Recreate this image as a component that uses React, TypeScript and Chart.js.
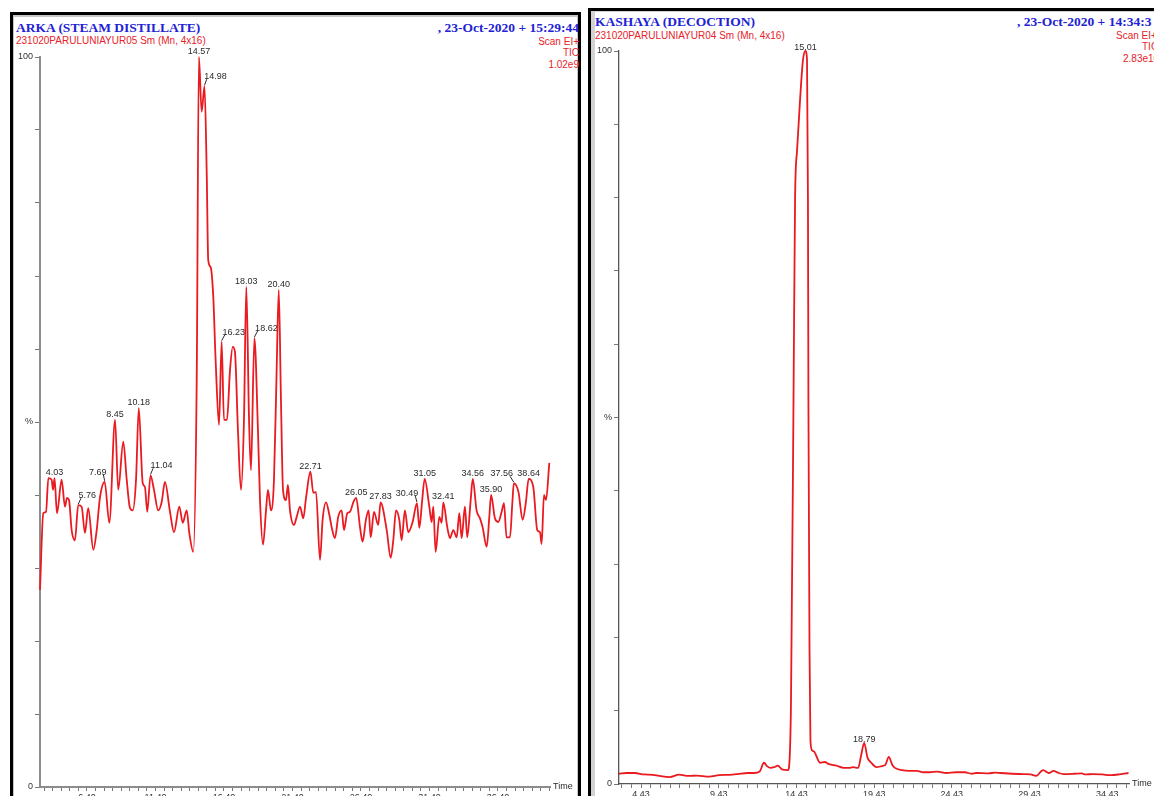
import React, { useEffect, useRef } from "react";
import { Chart, registerables } from "chart.js";

Chart.register(...registerables);

// ---------- ARKA (steam distillate) ----------
const arkaTimes = [
  2.97, 3.21, 3.41, 3.58, 3.82, 3.92, 4.03, 4.21, 4.55, 4.79,
  4.94, 5.09, 5.28, 5.52, 5.76, 6.01, 6.25, 6.49, 6.86, 7.11,
  7.35, 7.69, 8.03, 8.45, 8.68, 9.05, 9.3, 9.54, 9.74, 9.98,
  10.18, 10.47, 10.63, 10.8, 11.04, 11.29, 11.6, 11.85, 12.09, 12.46,
  12.75, 13.14, 13.39, 13.68, 13.87, 14.16, 14.41, 14.57, 14.77, 14.98,
  15.14, 15.25, 15.43, 15.62, 15.79, 16.04, 16.23, 16.4, 16.62, 16.84,
  17.04, 17.2, 17.42, 17.64, 17.86, 18.03, 18.23, 18.37, 18.62, 18.88,
  19.03, 19.25, 19.47, 19.61, 19.83, 20.05, 20.23, 20.4, 20.56, 20.71,
  20.93, 21.07, 21.22, 21.51, 21.71, 21.95, 22.19, 22.39, 22.71, 22.92,
  23.12, 23.41, 23.6, 23.85, 24.09, 24.26, 24.5, 24.74, 24.99, 25.16,
  25.4, 25.6, 25.84, 26.05, 26.33, 26.52, 26.76, 26.96, 27.11, 27.35,
  27.66, 27.83, 28.28, 28.57, 28.76, 28.96, 29.2, 29.37, 29.61, 29.85,
  30.17, 30.49, 30.66, 30.87, 31.05, 31.39, 31.56, 31.68, 31.85, 32.12,
  32.29, 32.41, 32.7, 32.9, 33.14, 33.39, 33.58, 33.75, 33.99, 34.16,
  34.41, 34.56, 34.84, 35.09, 35.28, 35.58, 35.77, 35.9, 36.18, 36.42,
  36.67, 36.84, 37.03, 37.28, 37.45, 37.56, 37.9, 38.2, 38.44, 38.64,
  38.98, 39.27, 39.47, 39.59, 39.76, 39.91, 40.15,
];
const arkaValues = [
  27.0, 37.5, 37.7, 42.3, 42.1, 40.7, 42.3, 37.5, 42.1, 38.4,
  39.6, 39.3, 35.2, 33.8, 38.6, 38.4, 34.8, 38.2, 32.5, 35.2,
  39.7, 41.8, 36.2, 50.3, 40.7, 47.3, 42.1, 38.2, 37.9, 42.1,
  51.9, 41.6, 41.1, 37.7, 42.7, 40.7, 37.9, 39.0, 41.8, 37.7,
  34.9, 38.4, 36.2, 37.9, 34.8, 32.2, 55.8, 100, 92.5, 96.0,
  84.1, 72.2, 71.2, 67.1, 58.5, 49.6, 61.0, 50.3, 50.3, 57.1,
  60.3, 59.6, 48.9, 40.7, 50.3, 68.5, 50.3, 43.4, 61.5, 48.9,
  39.3, 33.2, 37.9, 40.7, 37.9, 42.1, 55.8, 68.1, 53.0, 40.7,
  39.3, 41.4, 37.9, 35.9, 37.0, 38.4, 36.8, 39.6, 43.2, 40.3,
  40.4, 31.1, 36.6, 39.0, 37.3, 35.6, 34.1, 37.0, 37.9, 35.2,
  37.5, 37.7, 39.0, 39.6, 35.6, 33.6, 36.6, 37.9, 34.2, 37.7,
  35.9, 39.0, 35.2, 31.4, 33.8, 37.9, 36.6, 33.8, 37.9, 34.9,
  36.3, 38.9, 35.5, 39.3, 42.2, 38.4, 36.3, 38.4, 32.2, 37.0,
  36.2, 39.0, 35.6, 34.1, 35.2, 34.2, 37.5, 34.1, 38.4, 34.2,
  39.3, 42.2, 37.9, 36.8, 35.6, 32.9, 37.0, 40.0, 36.8, 36.3,
  37.7, 38.9, 34.2, 34.2, 38.9, 41.6, 40.4, 36.6, 39.0, 42.2,
  41.1, 35.2, 34.9, 33.3, 40.0, 39.3, 44.4,
];
const arkaPeakLabels = [
  "4.03", "5.76", "7.69", "8.45", "10.18", "11.04", "14.57", "14.98", "16.23", "18.03", "18.62",
  "20.40", "22.71", "26.05", "27.83", "30.49", "31.05", "32.41", "34.56", "35.90", "37.56", "38.64",
];
const arkaPeakHeights = [
  42.3, 38.6, 41.8, 50.3, 51.9, 42.7, 100, 96.0, 61.0, 68.5, 61.5,
  68.1, 43.2, 39.6, 39.0, 38.9, 42.2, 39.0, 42.2, 40.0, 41.6, 42.2,
];
const arkaTickLabels = ["6.40", "11.40", "16.40", "21.40", "26.40", "31.40", "36.40"];

// ---------- KASHAYA (decoction) ----------
const kashayaTimes = [
  3.01, 3.5, 4.04, 4.6, 5.2, 5.6, 6.28, 6.87, 7.5, 8.03,
  8.8, 9.45, 10.1, 10.64, 11.3, 11.7, 12.06, 12.34, 12.55, 12.76,
  13.0, 13.23, 13.5, 13.89, 14.02, 14.08, 14.24, 14.34, 14.47, 14.66,
  14.85, 15.01, 15.11, 15.17, 15.2, 15.27, 15.33, 15.43, 15.58, 15.95,
  16.25, 16.53, 17.0, 17.47, 17.8, 18.07, 18.4, 18.6, 18.79, 19.0,
  19.2, 19.59, 19.94, 20.15, 20.37, 20.6, 20.77, 21.22, 21.7, 22.19,
  22.6, 23.0, 23.5, 24.07, 24.7, 25.27, 25.7, 26.0, 26.8, 27.2,
  27.57, 28.3, 29.0, 29.5, 29.85, 30.3, 30.67, 30.97, 31.3, 31.62,
  32.3, 32.8, 33.0, 33.51, 34.1, 34.67, 35.3, 35.8,
];
const kashayaValues = [
  1.4, 1.5, 1.5, 1.3, 1.25, 1.1, 0.95, 1.27, 1.1, 1.15,
  1.0, 1.2, 1.25, 1.35, 1.5, 1.5, 1.7, 2.9, 2.4, 2.2,
  2.3, 2.5, 2.0, 1.9, 5.0, 11.5, 52.4, 79.7, 86.5, 93.3,
  98.8, 100, 98.8, 79.7, 52.0, 18.3, 6.0, 4.6, 4.4, 2.9,
  3.0, 2.7, 2.5, 2.2, 2.2, 2.3, 2.2, 4.0, 5.6, 3.6,
  3.0, 2.3, 2.45, 2.6, 3.7, 2.6, 2.2, 1.9, 1.8, 1.8,
  1.6, 1.6, 1.7, 1.5, 1.6, 1.6, 1.4, 1.5, 1.45, 1.55,
  1.5, 1.4, 1.35, 1.3, 1.1, 1.9, 1.5, 1.8, 1.5, 1.36,
  1.4, 1.45, 1.3, 1.36, 1.3, 1.2, 1.35, 1.5,
];
const kashayaPeakLabels = ["15.01", "18.79"];
const kashayaPeakHeights = [100, 5.6];
const kashayaTickLabels = ["4.43", "9.43", "14.43", "19.43", "24.43", "29.43", "34.43"];

// ---------- styling ----------
const SANS = '"Liberation Sans", Arial, sans-serif';
const SERIF = '"Liberation Serif", "Times New Roman", serif';
const RED = "#e8222a";
const BLUE = "#2222d4";
const LINE = "rgb(233,26,32)";

type ChromProps = {
  times: number[];
  values: number[];
  peakLabels: string[];
  peakHeights: number[];
  peakOffsets: number[];
  labelGap: number;
  tickLabels: string[];
  xMin: number;
  xMax: number;
  left: number;
  top: number;
  width: number;
  height: number;
  padTop: number;
  padRight: number;
  axisColor: string;
  axisWidth: number;
};

function Chromatogram(p: ChromProps) {
  const ref = useRef<HTMLCanvasElement | null>(null);

  useEffect(() => {
    if (!ref.current) return;
    const majorVals = p.tickLabels.map(Number);
    const step = 0.625;
    const tickVals: number[] = [];
    for (let k = -40; k < 120; k++) {
      const v = majorVals[0] + k * step;
      if (v >= p.xMin - 1e-9 && v <= p.xMax + 1e-9) tickVals.push(Number(v.toFixed(4)));
    }

    const labelPlugin = {
      id: "peakLabels",
      afterDatasetsDraw(chart: any) {
        const ctx = chart.ctx;
        const xs = chart.scales.x;
        const ys = chart.scales.y;
        ctx.save();
        ctx.font = `9px ${SANS}`;
        ctx.fillStyle = "#2a2a2a";
        ctx.strokeStyle = "#2a2a2a";
        ctx.lineWidth = 1;
        ctx.textAlign = "center";
        ctx.textBaseline = "alphabetic";
        p.peakLabels.forEach((lab, i) => {
          const px = xs.getPixelForValue(parseFloat(lab));
          const py = ys.getPixelForValue(p.peakHeights[i]);
          const dx = p.peakOffsets[i];
          const w = ctx.measureText(lab).width;
          if (dx === 0) {
            ctx.fillText(lab, px, py - p.labelGap);
          } else {
            const tx = px + dx;
            ctx.fillText(lab, tx, py - 7);
            const ex = dx > 0 ? tx - w / 2 + 2.5 : tx + w / 2 - 3;
            ctx.beginPath();
            ctx.moveTo(px, py - 1);
            ctx.lineTo(ex, py - 7);
            ctx.stroke();
          }
        });
        ctx.textAlign = "left";
        ctx.textBaseline = "middle";
        ctx.fillText("Time", chart.chartArea.right + 3, chart.chartArea.bottom);
        ctx.restore();
      },
    };

    const chart = new Chart(ref.current, {
      type: "line",
      data: {
        datasets: [
          {
            data: p.times.map((t, i) => ({ x: t, y: p.values[i] })),
            borderColor: LINE,
            borderWidth: 1.8,
            pointRadius: 0,
            fill: false,
            cubicInterpolationMode: "monotone",
            clip: 8,
          } as any,
        ],
      },
      options: {
        responsive: false,
        maintainAspectRatio: false,
        animation: false,
        events: [],
        layout: { padding: { left: 0, top: p.padTop, right: p.padRight, bottom: 0 } },
        plugins: { legend: { display: false }, tooltip: { enabled: false } },
        scales: {
          x: {
            type: "linear",
            min: p.xMin,
            max: p.xMax,
            afterFit(s: any) {
              s.height = 28;
            },
            afterBuildTicks(s: any) {
              s.ticks = tickVals.map((v) => ({ value: v }));
            },
            ticks: {
              autoSkip: false,
              maxRotation: 0,
              padding: 1,
              color: "#333",
              font: { size: 9, family: SANS },
              callback: (v: any) => {
                const i = majorVals.findIndex((m) => Math.abs(m - Number(v)) < 1e-6);
                return i >= 0 ? p.tickLabels[i] : "";
              },
            },
            grid: { drawOnChartArea: false, drawTicks: true, tickLength: 4, color: "#777", lineWidth: 1 },
            border: { display: true, color: p.axisColor, width: p.axisWidth },
          },
          y: {
            type: "linear",
            min: 0,
            max: 100,
            afterFit(s: any) {
              s.width = 27;
            },
            ticks: {
              stepSize: 10,
              autoSkip: false,
              padding: 2,
              color: "#333",
              font: { size: 9, family: SANS },
              callback: (v: any) => (v === 100 ? "100" : v === 50 ? "%" : v === 0 ? "0" : ""),
            },
            grid: { drawOnChartArea: false, drawTicks: true, tickLength: 5, color: "#777", lineWidth: 1 },
            border: { display: true, color: p.axisColor, width: p.axisWidth },
          },
        },
      } as any,
      plugins: [labelPlugin],
    });
    return () => chart.destroy();
  }, []);

  return (
    <canvas
      ref={ref}
      width={p.width}
      height={p.height}
      style={{ position: "absolute", left: p.left, top: p.top, width: p.width, height: p.height }}
    />
  );
}

const abs = (o: any) => ({ position: "absolute" as const, whiteSpace: "nowrap" as const, ...o });
const titleFont = {
  fontFamily: SERIF,
  fontWeight: 700,
  fontStyle: "normal",
  fontSize: "13.5px",
  color: BLUE,
  lineHeight: "15px",
};
const redFont = { fontFamily: SANS, fontSize: "10px", color: RED, lineHeight: "11.7px" };

export default function App() {
  return (
    <div
      style={{
        position: "fixed",
        left: 0,
        top: 0,
        width: 1154,
        height: 796,
        overflow: "hidden",
        background: "#fff",
        fontFamily: SANS,
      }}
    >
      {/* left panel frame */}
      <div
        style={abs({
          left: 10,
          top: 12,
          width: 571,
          height: 820,
          border: "3px solid #000",
          boxSizing: "border-box",
          boxShadow: "inset 0 1px 0 1px #c6c6c6",
        })}
      />
      {/* right panel frame */}
      <div
        style={abs({
          left: 588,
          top: 8,
          width: 590,
          height: 820,
          border: "3px solid #000",
          boxSizing: "border-box",
          boxShadow: "inset 4px 1px 0 0 #d2d2d2",
        })}
      />

      {/* left header */}
      <div style={abs({ left: 16, top: 19.5, ...titleFont })}>ARKA (STEAM DISTILLATE)</div>
      <div style={abs({ right: 1154 - 579, top: 19.5, ...titleFont })}>, 23-Oct-2020 + 15:29:44</div>
      <div style={abs({ left: 16, top: 35, ...redFont })}>231020PARULUNIAYUR05 Sm (Mn, 4x16)</div>
      <div style={abs({ right: 1154 - 579, top: 35.5, textAlign: "right", ...redFont })}>
        Scan EI+
        <br />
        TIC
        <br />
        1.02e9
      </div>

      {/* right header */}
      <div style={abs({ left: 595, top: 14, ...titleFont })}>KASHAYA (DECOCTION)</div>
      <div style={abs({ left: 1017, top: 14, ...titleFont })}>, 23-Oct-2020 + 14:34:3</div>
      <div style={abs({ left: 595, top: 29.5, ...redFont })}>231020PARULUNIAYUR04 Sm (Mn, 4x16)</div>
      <div style={abs({ left: 1116, top: 29.5, ...redFont })}>Scan EI+</div>
      <div style={abs({ left: 1142, top: 41.2, ...redFont })}>TIC</div>
      <div style={abs({ left: 1123, top: 52.9, ...redFont })}>2.83e10</div>

      <Chromatogram
        times={arkaTimes}
        values={arkaValues}
        peakLabels={arkaPeakLabels}
        peakHeights={arkaPeakHeights}
        peakOffsets={[0, 9, -7, 0, 0, 11, 0, 11, 12, 0, 12, 0, 0, 0, 0, -10, 0, 0, 0, 0, -12, 0]}
        labelGap={3}
        tickLabels={arkaTickLabels}
        xMin={2.97}
        xMax={40.2}
        left={13}
        top={15}
        width={565}
        height={800}
        padTop={42}
        padRight={28}
        axisColor="#8c8c8c"
        axisWidth={2}
      />
      <Chromatogram
        times={kashayaTimes}
        values={kashayaValues}
        peakLabels={kashayaPeakLabels}
        peakHeights={kashayaPeakHeights}
        peakOffsets={[0, 0]}
        labelGap={1}
        tickLabels={kashayaTickLabels}
        xMin={3.01}
        xMax={35.83}
        left={592}
        top={11}
        width={600}
        height={801}
        padTop={40}
        padRight={63}
        axisColor="#555"
        axisWidth={1.3}
      />
    </div>
  );
}
